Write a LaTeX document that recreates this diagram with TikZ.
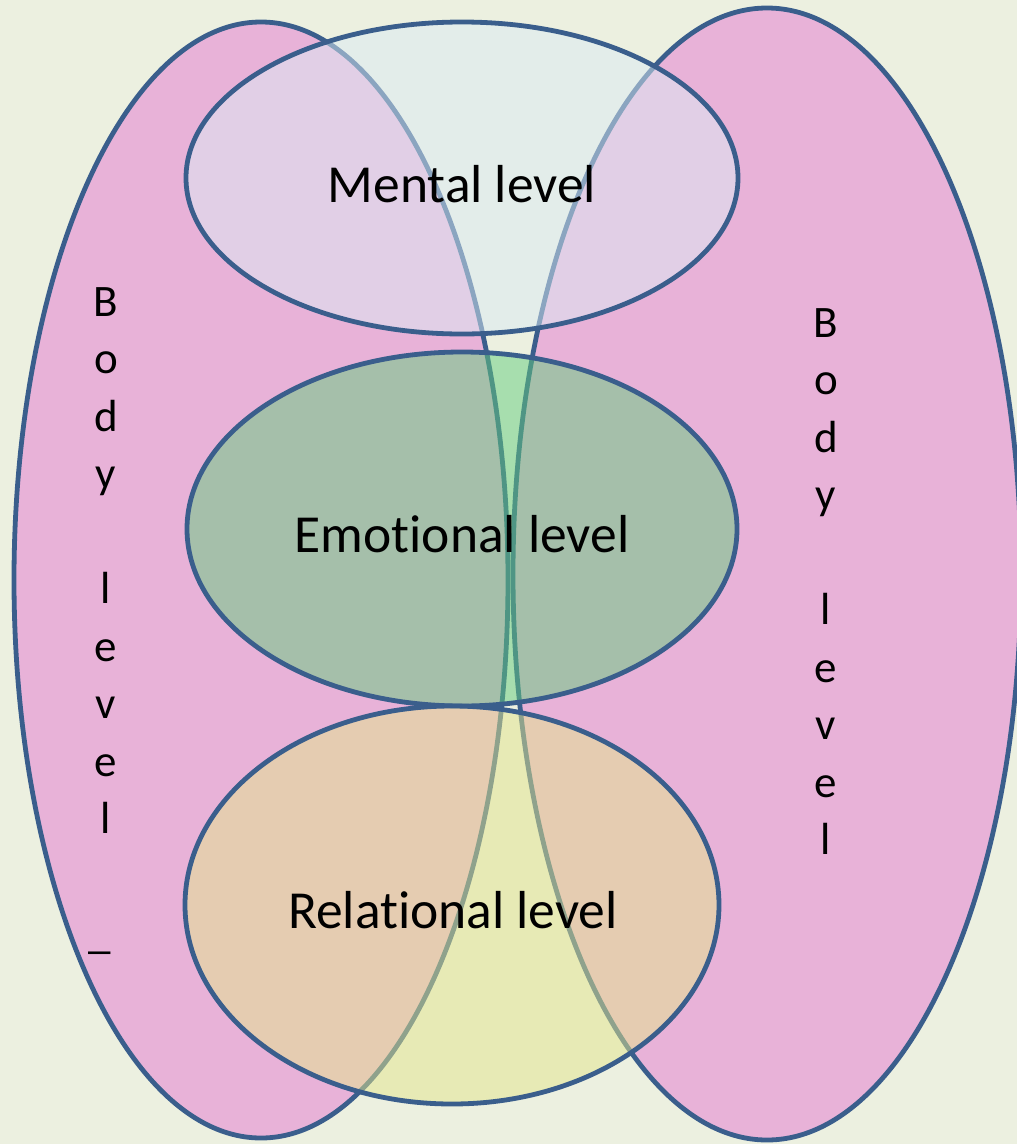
\documentclass[tikz,border=0pt]{standalone}
\usepackage{fontspec}
\setmainfont{Carlito}[Ligatures=NoCommon]
\definecolor{bgcol}{RGB}{236,240,224}
\definecolor{bodypink}{RGB}{232,178,216}
\definecolor{rimblue}{RGB}{58,94,140}
\definecolor{mentalcol}{RGB}{220,236,244}
\definecolor{emotcol}{RGB}{100,205,125}
\definecolor{relcol}{RGB}{228,230,140}
\tikzset{
  rim/.style={draw=rimblue,line width=4.8pt},
  lev/.style={rim,fill opacity=.5},
  levtxt/.style={font=\fontsize{53.5}{60}\selectfont,anchor=base},
  bodytxt/.style={font=\fontsize{45}{50}\selectfont,anchor=base},
}
\begin{document}
\begin{tikzpicture}[x=1pt,y=-1pt]
        \useasboundingbox (0,0) rectangle (1017,1144);
        \fill[bgcol] (0,0) rectangle (1017,1144);
        % body level, left and right
        \draw[rim,fill=bodypink] (261,580) ellipse [x radius=247,y radius=558];
        \draw[rim,fill=bodypink] (767,574) ellipse [x radius=254,y radius=566];
        % the three levels
        \draw[lev,fill=mentalcol] (462,178) ellipse [x radius=276,y radius=156];
        \draw[lev,fill=emotcol] (462,529) ellipse [x radius=275,y radius=177];
        \draw[lev,fill=relcol] (452,905) ellipse [x radius=267,y radius=199];
        \node[levtxt] (mental) at (462,202) {Mental level};
        \node[levtxt] (emotional) at (462,552) {Emotional level};
        \node[levtxt] (relational) at (453,928) {Relational level};
        % vertical labels
        \foreach \ch/\k in {B/0,o/1,d/2,y/3,l/5,e/6,v/7,e/8,l/9}{
            \node[bodytxt] (bodyL\k) at (106,{316+57.5*\k}) {\ch};
            \node[bodytxt] (bodyR\k) at (826,{337+57.5*\k}) {\ch};
        }
        \node[bodytxt] (bodyLdash) at (100,{316+57.5*11}) {\_};
    \end{tikzpicture}
\end{document}
